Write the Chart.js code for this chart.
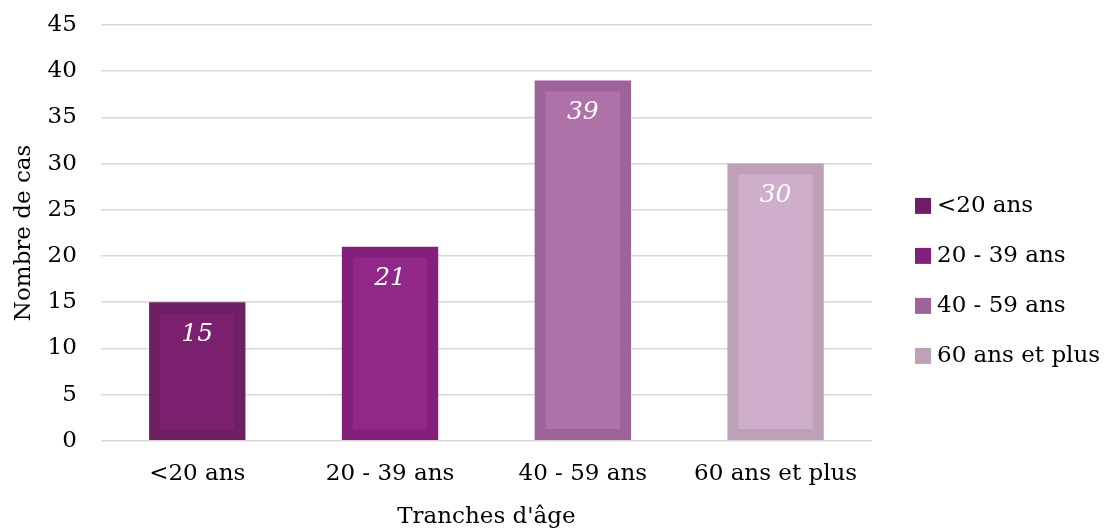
<!DOCTYPE html>
<html>
<head>
<meta charset="utf-8">
<script src="https://cdn.jsdelivr.net/npm/chart.js@4"></script>
<style>
  body { margin: 0; background: #fff; }
  #wrap { width: 1104px; height: 531px; }
</style>
</head>
<body>
<div id="wrap"><canvas id="chart"></canvas></div>
<script>
const categories = ['<20 ans', '20 - 39 ans', '40 - 59 ans', '60 ans et plus'];
const caseCounts = [15, 21, 39, 30];
const fillColors = ['#7b1f6f', '#92278a', '#ae72a8', '#cfaecb'];
const borderColors = ['#6e1f64', '#84207c', '#9e6399', '#bfa0b9'];

const FONT = '"DejaVu Serif", "Liberation Serif", serif';

// white italic value near the top of each bar
const valueLabels = {
    id: 'valueLabels',
    afterDatasetsDraw(chart) {
        const ctx = chart.ctx;
        const meta = chart.getDatasetMeta(0);
        ctx.save();
        ctx.fillStyle = '#ffffff';
        ctx.font = 'italic 25px ' + FONT;
        ctx.textAlign = 'center';
        ctx.textBaseline = 'middle';
        meta.data.forEach((bar, i) => {
            ctx.fillText(caseCounts[i], bar.x, bar.y + 32);
        });
        ctx.restore();
    }
};

// legend on the right, drawn next to the plot area
const sideLegend = {
    id: 'sideLegend',
    afterDraw(chart) {
        const ctx = chart.ctx;
        const area = chart.chartArea;
        const x = area.right + 43;
        const firstY = (area.top + area.bottom) / 2 - 27;
        ctx.save();
        ctx.font = '23px ' + FONT;
        ctx.textAlign = 'left';
        ctx.textBaseline = 'middle';
        categories.forEach((c, i) => {
            const y = firstY + i * 50;
            ctx.fillStyle = borderColors[i];
            ctx.fillRect(x, y - 8, 16, 16);
            ctx.fillStyle = '#000';
            ctx.fillText(c, x + 22, y);
        });
        ctx.restore();
    }
};

new Chart(document.getElementById('chart'), {
    type: 'bar',
    data: {
        labels: categories,
        datasets: [{
            // outer frame in the darker shade
            data: caseCounts,
            backgroundColor: borderColors,
            borderWidth: 0,
            categoryPercentage: 1,
            barPercentage: 0.5,
            grouped: false,
            order: 2
        }, {
            // inner fill, inset by a transparent border
            data: caseCounts,
            backgroundColor: fillColors,
            borderColor: 'rgba(0,0,0,0)',
            borderWidth: 11,
            borderSkipped: false,
            categoryPercentage: 1,
            barPercentage: 0.5,
            grouped: false,
            order: 1
        }]
    },
    options: {
        responsive: true,
        maintainAspectRatio: false,
        animation: false,
        layout: { padding: { left: 6, right: 232, top: 0, bottom: 0 } },
        plugins: {
            tooltip: { enabled: false },
            legend: { display: false }
        },
        scales: {
            x: {
                grid: { display: false, drawTicks: false },
                border: { display: false },
                ticks: { font: { family: FONT, size: 23 }, color: '#000', padding: 19 },
                title: {
                    display: true,
                    text: "Tranches d'âge",
                    font: { family: FONT, size: 23 },
                    color: '#000',
                    padding: { top: -3, bottom: 0 }
                }
            },
            y: {
                min: 0,
                max: 45,
                ticks: {
                    stepSize: 5,
                    font: { family: FONT, size: 23 },
                    color: '#000',
                    padding: 24
                },
                grid: { color: '#d9d9d9', lineWidth: 1.5, drawTicks: false },
                border: { display: false },
                title: {
                    display: true,
                    text: 'Nombre de cas',
                    font: { family: FONT, size: 23 },
                    color: '#000',
                    padding: { top: 4, bottom: -14 }
                },
                afterFit(scale) {
                    scale.paddingTop = 25;
                }
            }
        }
    },
    plugins: [valueLabels, sideLegend]
});
</script>
</body>
</html>
